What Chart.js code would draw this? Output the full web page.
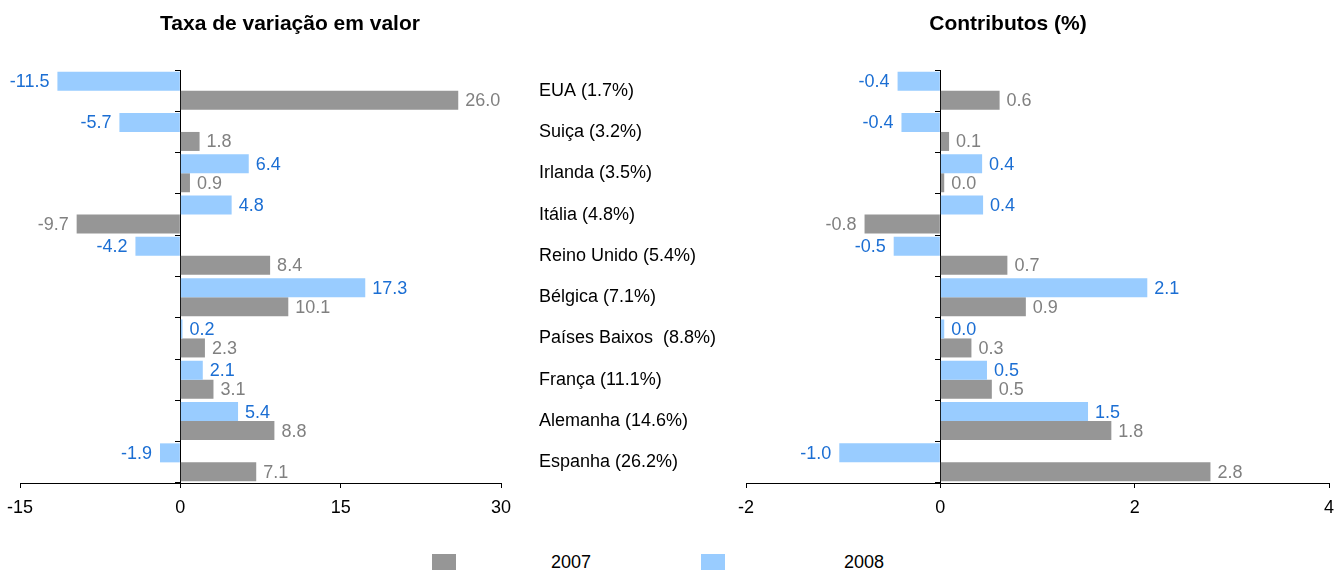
<!DOCTYPE html>
<html><head><meta charset="utf-8">
<script src="https://cdn.jsdelivr.net/npm/chart.js@4"></script>
<style>
html,body{margin:0;padding:0;background:#fff;width:1336px;height:572px;overflow:hidden;font-family:"Liberation Sans",Arial,sans-serif;}
canvas{position:absolute;top:0;}
#cL{left:0;}
#cR{left:530px;}
.title{position:absolute;top:12px;font-weight:bold;font-size:21px;line-height:21px;color:#000;white-space:nowrap;transform:translateX(-50%);}
.leg{position:absolute;top:553px;font-size:18px;line-height:18px;color:#000;}
.box{position:absolute;top:554px;width:24px;height:16px;}
</style></head>
<body>
<canvas id="cL" width="530" height="523"></canvas>
<canvas id="cR" width="806" height="523"></canvas>
<div class="title" id="tL" style="left:290px;"></div>
<div class="title" id="tR" style="left:1008px;"></div>
<div class="box" id="b0" style="left:432px;"></div>
<div class="leg" id="l0" style="left:551px;"></div>
<div class="box" id="b1" style="left:701px;"></div>
<div class="leg" id="l1" style="left:844px;"></div>
<script>
// ---- data ----
const categories = ['EUA (1.7%)','Suiça (3.2%)','Irlanda (3.5%)','Itália (4.8%)','Reino Unido (5.4%)','Bélgica (7.1%)','Países Baixos  (8.8%)','França (11.1%)','Alemanha (14.6%)','Espanha (26.2%)'];
const seriesNames = ['2007','2008'];
const taxa2007 = [26.0, 1.8, 0.9, -9.7, 8.4, 10.1, 2.3, 3.1, 8.8, 7.1];
const taxa2008 = [-11.5, -5.7, 6.4, 4.8, -4.2, 17.3, 0.2, 2.1, 5.4, -1.9];
const contrib2007 = [0.61, 0.09, 0.04, -0.78, 0.69, 0.88, 0.32, 0.53, 1.76, 2.78];
const contrib2008 = [-0.44, -0.40, 0.43, 0.44, -0.48, 2.13, 0.04, 0.48, 1.52, -1.04];
const titles = ['Taxa de variação em valor', 'Contributos (%)'];
const taxaRange = [-15, 30, 15];
const contribRange = [-2, 4, 2];

// ---- styles ----
const FONT = '"Liberation Sans", Arial, sans-serif';
const barColors = ['#969696', '#99CCFF'];
const textColors = ['#808080', '#1B6ED3'];

document.getElementById('tL').textContent = titles[0];
document.getElementById('tR').textContent = titles[1];
document.getElementById('l0').textContent = seriesNames[0];
document.getElementById('l1').textContent = seriesNames[1];
document.getElementById('b0').style.background = barColors[0];
document.getElementById('b1').style.background = barColors[1];

Chart.defaults.font.family = FONT;
Chart.defaults.font.size = 18;
Chart.defaults.color = '#000';

const valueLabels = {
  id: 'valueLabels',
  afterDatasetsDraw(chart) {
    const ctx = chart.ctx;
    ctx.save();
    ctx.font = '18px ' + FONT;
    ctx.textBaseline = 'middle';
    chart.data.datasets.forEach((ds, i) => {
      const meta = chart.getDatasetMeta(i);
      meta.data.forEach((el, j) => {
        const v = ds.data[j];
        const neg = v < 0;
        ctx.fillStyle = ds.labelColor;
        ctx.textAlign = neg ? 'right' : 'left';
        ctx.fillText(v.toFixed(1), el.x + (neg ? -8 : 7), el.y + 1);
      });
    });
    ctx.restore();
  }
};

function zeroAxis() {
  return {
    type: 'category', axis: 'y', position: { x: 0 }, offset: true, z: 1,
    grid: { offset: true, drawOnChartArea: false, drawTicks: true, tickLength: 5, color: '#000', lineWidth: 1 },
    ticks: { display: false },
    border: { display: true, color: '#000', width: 1 }
  };
}
function valueAxis(range) {
  return {
    type: 'linear', position: 'bottom', min: range[0], max: range[1],
    ticks: { stepSize: range[2], padding: 9, color: '#000', font: { size: 18 } },
    grid: { drawOnChartArea: false, drawTicks: true, tickLength: 5, color: '#000', lineWidth: 1 },
    border: { display: true, color: '#000', width: 1 },
    afterFit(s) { s.height = 40; s.paddingLeft = 0; s.paddingRight = 0; }
  };
}
function datasets(d07, d08) {
  return [
    { label: seriesNames[1], data: d08, backgroundColor: barColors[1], labelColor: textColors[1], categoryPercentage: 0.92, barPercentage: 1.0 },
    { label: seriesNames[0], data: d07, backgroundColor: barColors[0], labelColor: textColors[0], categoryPercentage: 0.92, barPercentage: 1.0 }
  ];
}
const common = {
  indexAxis: 'y', responsive: false, animation: false,
  plugins: { legend: { display: false }, tooltip: { enabled: false } }
};

new Chart(document.getElementById('cL'), {
  type: 'bar',
  data: { labels: categories, datasets: datasets(taxa2007, taxa2008) },
  options: Object.assign({}, common, {
    layout: { padding: { left: 20, right: 29, top: 70, bottom: 0 } },
    scales: { x: valueAxis(taxaRange), y: zeroAxis() }
  }),
  plugins: [valueLabels]
});

new Chart(document.getElementById('cR'), {
  type: 'bar',
  data: { labels: categories, datasets: datasets(contrib2007, contrib2008) },
  options: Object.assign({}, common, {
    layout: { padding: { left: 9, right: 7, top: 70, bottom: 0 } },
    scales: {
      x: valueAxis(contribRange),
      y: {
        type: 'category', position: 'left', offset: true,
        grid: { display: false, offset: true },
        border: { display: false },
        ticks: { crossAlign: 'far', color: '#000', font: { size: 18 }, padding: 0 },
        afterFit(s) { s.width = 207; }
      },
      y2: zeroAxis()
    }
  }),
  plugins: [valueLabels]
});
</script>
</body></html>
